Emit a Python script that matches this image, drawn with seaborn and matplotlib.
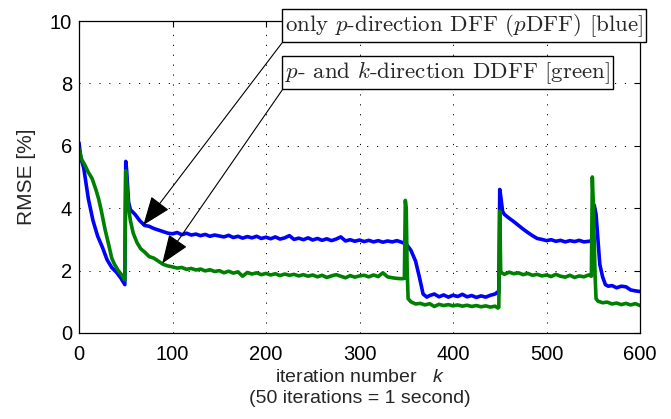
import matplotlib
matplotlib.use("Agg")
import matplotlib.pyplot as plt
import seaborn as sns
import pandas as pd

# RMSE curves (iteration k, RMSE in %)
k_blue = [0, 2, 5, 10, 15, 20, 25, 30, 35, 40, 45, 48, 49, 50, 51, 53, 55, 60, 65, 70,
          75, 80, 85, 90, 95,
          100, 105, 110, 115, 120, 125, 130, 135, 140, 145, 150, 155, 160, 165, 170, 175,
          180, 185, 190, 195, 200, 205, 210, 215, 220, 225, 230, 235, 240, 245, 250, 255,
          260, 265, 270, 275, 280, 285, 290, 295, 300, 305, 310, 315, 320, 325, 330, 335,
          340, 345, 350, 355, 360, 364, 368, 372,
          375, 380, 385, 390, 395, 400, 405, 410, 415, 420, 425, 430, 435, 440, 445,
          448, 449, 450, 451, 453,
          455, 460, 465, 470, 475, 480, 485, 490, 495, 500, 505, 510, 515, 520, 525, 530,
          535, 540, 545, 548, 550, 551, 553, 555, 557, 560, 563,
          566, 570, 575, 580, 585, 590, 595, 600]
rmse_blue = [6.1, 5.6, 5.3, 4.3, 3.6, 3.1, 2.75, 2.35, 2.1, 1.95, 1.75, 1.6, 1.55, 5.5, 5.2, 4.2, 3.95, 3.8, 3.6, 3.45,
             3.42, 3.35, 3.3, 3.25, 3.2,
             3.18, 3.22, 3.15, 3.2, 3.14, 3.17, 3.12, 3.16, 3.1, 3.14, 3.11, 3.08, 3.13, 3.06, 3.1, 3.04,
             3.09, 3.05, 3.1, 3.03, 3.07, 3.02, 3.08, 3.01, 3.05, 3.12, 3.0, 3.04, 2.99, 3.05, 2.98, 3.03,
             2.97, 3.02, 2.96, 3.01, 3.08, 2.95, 2.99, 2.94, 2.98, 2.93, 2.97, 2.92, 2.96, 2.91, 2.95, 2.92,
             2.96, 2.91, 2.85, 2.65, 2.3, 1.8, 1.25, 1.15,
             1.2, 1.25, 1.16, 1.22, 1.15, 1.21, 1.17, 1.24, 1.16, 1.2, 1.14, 1.19, 1.15, 1.21, 1.25,
             1.32, 1.28, 4.6, 4.4, 3.9,
             3.8, 3.68, 3.57, 3.45, 3.33, 3.22, 3.12, 3.03, 3.0, 2.96, 2.99, 2.94, 2.97, 2.92, 2.96, 2.93,
             2.97, 2.92, 2.94, 2.95, 3.3, 4.1, 3.8, 3.0, 2.2, 1.8, 1.55,
             1.5, 1.52, 1.45, 1.5, 1.48, 1.38, 1.35, 1.33]

k_green = [0, 3, 6, 10, 14, 18, 21, 24, 28, 32, 35, 38, 42, 46, 48, 49, 50, 51, 53, 55,
           58, 62, 66, 70, 75, 80, 85, 90, 95,
           100, 105, 110, 115, 120, 125, 130, 135, 140, 145, 150, 155, 160, 165, 170, 175,
           180, 185, 190, 195, 200, 205, 210, 215, 220, 225, 230, 235, 240, 245, 250, 255,
           260, 265, 270, 275, 280, 285, 290, 295, 300, 305, 310, 315, 320, 325, 330, 335,
           340, 345, 348, 349, 350, 351, 352,
           355, 360, 365, 370, 375, 380, 385, 390, 395, 400, 405, 410, 415, 420, 425, 430,
           435, 440, 445, 448, 449, 450, 451,
           452, 455, 460, 465, 470, 475, 480, 485, 490, 495, 500, 505, 510, 515, 520, 525,
           530, 535, 540, 545, 548, 549, 550, 552, 553,
           555, 560, 565, 570, 575, 580, 585, 590, 595, 600]
rmse_green = [5.9, 5.55, 5.4, 5.15, 4.95, 4.6, 4.3, 3.9, 3.3, 2.8, 2.4, 2.2, 2.0, 1.85, 1.75, 1.7, 5.2, 4.8, 4.0, 3.6,
              3.2, 2.9, 2.7, 2.6, 2.45, 2.4, 2.3, 2.2, 2.15,
              2.12, 2.08, 2.1, 2.04, 2.07, 2.02, 2.05, 1.99, 2.03, 1.97, 2.0, 1.93, 1.98, 1.92, 1.96, 1.82,
              1.94, 1.89, 1.93, 1.87, 1.91, 1.86, 1.9, 1.84, 1.89, 1.85, 1.88, 1.83, 1.87, 1.82, 1.86, 1.8,
              1.85, 1.78, 1.83, 1.87, 1.82, 1.77, 1.84, 1.79, 1.83, 1.85, 1.8, 1.86, 1.81, 1.93, 1.8, 1.77,
              1.75, 1.74, 1.75, 4.25, 4.0, 2.0, 1.1,
              1.0, 0.93, 0.95, 0.9, 0.94, 0.85, 0.92, 0.88, 0.91, 0.87, 0.9, 0.86, 0.89, 0.85, 0.88, 0.84,
              0.87, 0.83, 0.86, 0.8, 0.82, 3.9, 2.0,
              1.93, 1.88, 1.95, 1.9, 1.93, 1.87, 1.91, 1.85, 1.88, 1.83, 1.86, 1.81, 1.88, 1.82, 1.79, 1.85,
              1.78, 1.83, 1.8, 1.86, 1.82, 5.0, 4.2, 1.8, 1.1,
              1.02, 0.97, 0.99, 0.93, 0.96, 0.91, 0.95, 0.9, 0.94, 0.88]

label_blue = r"only $p$-direction DFF ($p$DFF) [blue]"
label_green = r"$p$- and $k$-direction DDFF [green]"

df_blue = pd.DataFrame({"k": k_blue, "rmse": rmse_blue})
df_green = pd.DataFrame({"k": k_green, "rmse": rmse_green})

sns.set_style("white")
plt.rcParams["font.family"] = ["Liberation Sans", "DejaVu Sans"]
plt.rcParams["mathtext.fontset"] = "custom"
plt.rcParams["mathtext.it"] = "Liberation Sans:italic"
plt.rcParams["mathtext.rm"] = "Liberation Sans"

fig = plt.figure(figsize=(6.71, 4.19), dpi=100)
ax = fig.add_axes([79 / 671, 1 - 333 / 419, 561 / 671, 312 / 419])

sns.lineplot(data=df_blue, x="k", y="rmse", color=(0, 0, 1), linewidth=2.6, ax=ax)
sns.lineplot(data=df_green, x="k", y="rmse", color=(0, 0.5, 0), linewidth=2.6, ax=ax)

ax.set_xlim(0, 600)
ax.set_ylim(0, 10)
ax.set_xticks(range(0, 601, 100))
ax.set_yticks(range(0, 11, 2))
ax.grid(True, color="black", linewidth=0.7, linestyle=(0, (1.2, 9)))
ax.tick_params(direction="in", top=True, right=True, length=4, width=0.8,
               labelsize=14.5, colors="black")
ax.tick_params(axis="x", pad=9)
ax.tick_params(axis="y", pad=5)
for s in ax.spines.values():
    s.set_color("black")
    s.set_linewidth(0.9)

ax.set_xlabel("iteration number   $k$\n(50 iterations = 1 second)", fontsize=14,
              linespacing=1.3, labelpad=3)
ax.set_ylabel("RMSE [%]", fontsize=15, labelpad=10)

box = dict(boxstyle="square,pad=0.15", fc="white", ec="black", lw=1)
arrow = dict(arrowstyle="-|>,head_length=1.3,head_width=0.5", color="black", lw=0.8,
             relpos=(0, 0), shrinkA=0, shrinkB=0, mutation_scale=14)
ax.annotate(label_blue, xy=(68.8, 3.46), xycoords="data", xytext=(285, 380),
            textcoords="figure pixels", ha="left", va="bottom", fontsize=16.5,
            fontfamily="cmr10", math_fontfamily="cm", bbox=box, arrowprops=arrow,
            annotation_clip=False, zorder=5)
ax.annotate(label_green, xy=(89, 2.23), xycoords="data", xytext=(285, 333),
            textcoords="figure pixels", ha="left", va="bottom", fontsize=16.5,
            fontfamily="cmr10", math_fontfamily="cm", bbox=box, arrowprops=arrow,
            annotation_clip=False, zorder=5)

fig.savefig("out.png", dpi=100)
